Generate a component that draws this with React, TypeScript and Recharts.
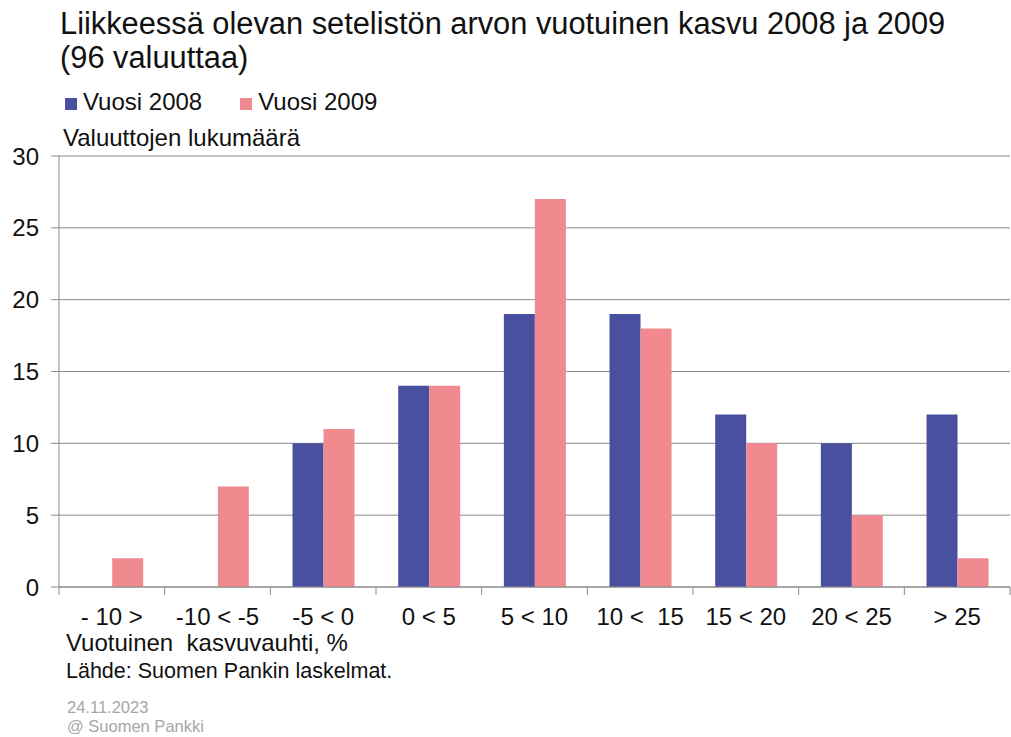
import React from 'react';
import { BarChart, Bar, XAxis, YAxis, CartesianGrid, Legend } from 'recharts';

const categories = ['- 10 >', '-10 < -5', '-5 < 0', '0 < 5', '5 < 10', '10 <  15', '15 < 20', '20 < 25', '> 25'];
const vuosi2008 = [0, 0, 10, 14, 19, 19, 12, 10, 12];
const vuosi2009 = [2, 7, 11, 14, 27, 18, 10, 5, 2];
const yTicks = [0, 5, 10, 15, 20, 25, 30];

const seriesNames = ['Vuosi 2008', 'Vuosi 2009'];
const seriesColors = ['#4A50A0', '#F08A8E'];

const data = categories.map((c, i) => ({ cat: c, v2008: vuosi2008[i], v2009: vuosi2009[i] }));

const FONT = '"Liberation Sans", Arial, sans-serif';
const LINE = '#8a8a8a';

const XTick = (props: any) => {
  const { x, y, payload, index } = props;
  const off = payload && typeof payload.offset === 'number' ? payload.offset : 0;
  return (
    <g>
      <line x1={x - off} x2={x - off} y1={y - 8} y2={y} stroke={LINE} strokeWidth={1} />
      {index === categories.length - 1 && (
        <line x1={x + off} x2={x + off} y1={y - 8} y2={y} stroke={LINE} strokeWidth={1} />
      )}
      <text x={x} y={y + 30} textAnchor="middle" fontSize={24} fill="#111" fontFamily={FONT} style={{ whiteSpace: 'pre' }}>
        {payload.value}
      </text>
    </g>
  );
};

const LegendContent = () => (
  <div style={{ display: 'flex', alignItems: 'center', fontFamily: FONT, fontSize: 24, color: '#111', whiteSpace: 'nowrap' }}>
    {seriesNames.map((n, i) => (
      <div key={n} style={{ display: 'flex', alignItems: 'center', marginRight: i === 0 ? 38 : 0 }}>
        <div style={{ width: 12, height: 12, background: seriesColors[i], marginRight: 6, marginTop: 4 }} />
        <span>{n}</span>
      </div>
    ))}
  </div>
);

export default function App() {
  return (
    <div style={{ position: 'absolute', left: 0, top: 0, width: 1011, height: 737, background: '#fff', fontFamily: FONT }}>
      <BarChart
        width={1011}
        height={737}
        data={data}
        margin={{ top: 156, right: 1, bottom: 110, left: 0 }}
        barCategoryGap="21%"
        barGap={0}
      >
        <CartesianGrid horizontal={true} vertical={false} stroke={LINE} strokeWidth={1} />
        <XAxis
          dataKey="cat"
          height={40}
          interval={0}
          tickSize={8}
          tickMargin={0}
          tickLine={false}
          axisLine={{ stroke: LINE, strokeWidth: 1 }}
          tick={<XTick />}
        />
        <YAxis
          width={59}
          domain={[0, 30]}
          ticks={yTicks}
          interval={0}
          tickSize={8}
          tickMargin={12}
          axisLine={{ stroke: LINE, strokeWidth: 1 }}
          tickLine={{ stroke: LINE, strokeWidth: 1 }}
          tick={{ fontSize: 24, fill: '#111', fontFamily: FONT }}
        />
        <YAxis
          yAxisId="r"
          orientation="right"
          width={0}
          domain={[0, 30]}
          tick={false}
          tickLine={false}
          axisLine={{ stroke: LINE, strokeWidth: 1 }}
        />
        <Legend
          layout="vertical"
          align="center"
          verticalAlign="middle"
          content={<LegendContent />}
          wrapperStyle={{ position: 'absolute', top: 88, left: 65, width: 'auto', height: 'auto' }}
        />
        <Bar dataKey="v2008" name={seriesNames[0]} fill={seriesColors[0]} isAnimationActive={false} />
        <Bar dataKey="v2009" name={seriesNames[1]} fill={seriesColors[1]} isAnimationActive={false} />
      </BarChart>
      <svg width={1011} height={737} style={{ position: 'absolute', left: 0, top: 0, pointerEvents: 'none' }}>
        <g fontFamily={FONT} fill="#111">
          <text x={60} y={34} fontSize={30.8}>Liikkeessä olevan setelistön arvon vuotuinen kasvu 2008 ja 2009</text>
          <text x={60} y={68} fontSize={30.8}>(96 valuuttaa)</text>
          <text x={63} y={146} fontSize={24}>Valuuttojen lukumäärä</text>
          <text x={66} y={651} fontSize={24} style={{ whiteSpace: 'pre' }}>Vuotuinen  kasvuvauhti, %</text>
          <text x={66} y={678} fontSize={21.5}>Lähde: Suomen Pankin laskelmat.</text>
        </g>
        <g fontFamily={FONT} fill="#a6a6a6" fontSize={16.5}>
          <text x={67} y={713}>24.11.2023</text>
          <text x={67} y={732}>@ Suomen Pankki</text>
        </g>
      </svg>
    </div>
  );
}
